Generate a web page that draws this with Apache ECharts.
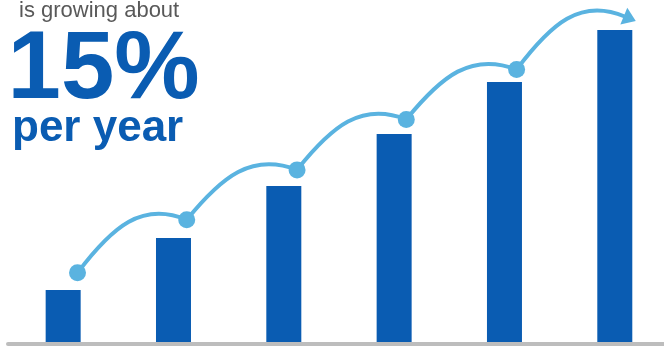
<!DOCTYPE html>
<html>
<head>
<meta charset="utf-8">
<script src="https://cdn.jsdelivr.net/npm/echarts@6/dist/echarts.min.js"></script>
<style>html,body{margin:0;padding:0;background:#fff}#c{width:664px;height:346px}</style>
</head>
<body>
<div id="c"></div>
<script>
// Data
var categories = ['Y1', 'Y2', 'Y3', 'Y4', 'Y5', 'Y6'];
var barValues = [1, 2, 3, 4, 5, 6];
var dotX = [0.63, 1.62, 2.62, 3.61, 4.61];
var dotY = [1.33, 2.35, 3.31, 4.28, 5.24];
var arrowEndX = 5.59;
var arrowEndY = 6.26;
var headline = 'is growing about';
var bigNumber = '15%';
var subline = 'per year';

var BLUE = '#0A5CB2';
var LIGHT = '#5AB3E0';

var chart = echarts.init(document.getElementById('c'), null, {renderer: 'canvas'});

// bars placed at category centres (index + 0.5) on a numeric x scale
var barData = categories.map(function (c, i) { return [i + 0.5, barValues[i]]; });

var pts = dotX.map(function (x, i) { return [x, dotY[i]]; });
pts.push([arrowEndX, arrowEndY]);
var segs = [];
for (var i = 0; i < pts.length - 1; i++) {
  segs.push([pts[i][0], pts[i][1], pts[i + 1][0], pts[i + 1][1], i === pts.length - 2 ? 1 : 0]);
}

function renderSeg(params, api) {
  var p0 = api.coord([api.value(0), api.value(1)]);
  var p3 = api.coord([api.value(2), api.value(3)]);
  var last = api.value(4);
  var dx = p3[0] - p0[0];
  var dy = p0[1] - p3[1];
  var c1 = [p0[0] + 0.32 * dx, p0[1] - 0.87 * dy];
  var c2 = [p3[0] - 0.41 * dx, p3[1] - 0.35 * dy];
  var children = [{
    type: 'bezierCurve',
    shape: {x1: p0[0], y1: p0[1], cpx1: c1[0], cpy1: c1[1], cpx2: c2[0], cpy2: c2[1], x2: p3[0], y2: p3[1]},
    style: {stroke: LIGHT, lineWidth: 4, fill: null}
  }];
  if (last) {
    var ux = p3[0] - c2[0], uy = p3[1] - c2[1];
    var L = Math.sqrt(ux * ux + uy * uy); ux /= L; uy /= L;
    var nx = -uy, ny = ux;
    var len = 12, hw = 9;
    children.push({
      type: 'polygon',
      shape: {points: [
        [p3[0] + ux * len, p3[1] + uy * len],
        [p3[0] + nx * hw - ux * 1, p3[1] + ny * hw - uy * 1],
        [p3[0] - nx * hw - ux * 1, p3[1] - ny * hw - uy * 1]
      ]},
      style: {fill: LIGHT}
    });
  }
  return {type: 'group', children: children};
}

chart.setOption({
  animation: false,
  grid: {left: 8, top: 30, right: 0, bottom: 4, containLabel: false},
  xAxis: {
    type: 'value', min: 0, max: 5.946, offset: 2,
    axisLine: {show: true, onZero: false, lineStyle: {color: '#BDBDBD', width: 4}},
    axisTick: {show: false}, axisLabel: {show: false}, splitLine: {show: false}
  },
  yAxis: {type: 'value', min: 0, max: 6, show: false, splitLine: {show: false}},
  series: [{
    type: 'bar', data: barData, barWidth: 35,
    itemStyle: {color: BLUE}, z: 2
  }, {
    type: 'custom', data: segs, renderItem: renderSeg, z: 3
  }, {
    type: 'scatter', data: pts.slice(0, dotX.length), symbol: 'circle', symbolSize: 17,
    itemStyle: {color: LIGHT, opacity: 1}, z: 4
  }],
  graphic: [
    {type: 'text', x: 19, y: 11, style: {text: headline, font: '22px "Liberation Sans", Arial, sans-serif', fill: '#595959', verticalAlign: 'middle'}},
    {type: 'text', x: 7.5, y: 72, style: {text: bigNumber, font: 'bold 96px "Liberation Sans", Arial, sans-serif', fill: BLUE, verticalAlign: 'middle'}},
    {type: 'text', x: 12, y: 128.5, style: {text: subline, font: 'bold 44px "Liberation Sans", Arial, sans-serif', fill: BLUE, verticalAlign: 'middle'}}
  ]
});
</script>
</body>
</html>
